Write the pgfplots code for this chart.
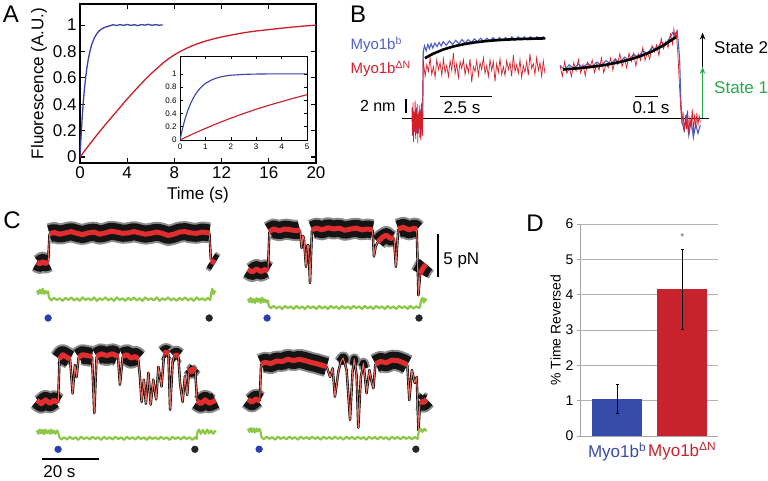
\documentclass[border=0pt]{standalone}
\usepackage{pgfplots}
\pgfplotsset{compat=1.18}
\usepackage{pgfplotstable}
\usepackage{fontspec}
\setmainfont{Liberation Sans}
\usetikzlibrary{arrows.meta}
\newcommand\fs[1]{\fontsize{#1}{#1}\selectfont}
\definecolor{ablue}{RGB}{55,65,170}
\definecolor{ared}{RGB}{200,30,40}
\definecolor{bblue}{RGB}{80,95,200}
\definecolor{bred}{RGB}{215,30,40}
\definecolor{cred}{RGB}{225,45,45}
\definecolor{cpink}{RGB}{232,110,100}
\definecolor{cgreen}{RGB}{140,200,70}
\definecolor{sgreen}{RGB}{40,170,75}
\definecolor{dblue}{RGB}{55,75,170}
\definecolor{dred}{RGB}{200,35,45}
\definecolor{dotblue}{RGB}{40,60,180}
\pgfplotsset{
 cax/.style={anchor=south west, scale only axis, width=178.125pt, height=111.8pt, xmin=0, xmax=62.5, ymin=-7, ymax=6, hide axis, clip=false, no markers},
 bax/.style={anchor=south west, scale only axis, height=126pt, ymin=-4, ymax=14, hide axis, clip=false, no markers},
}
\newcommand{\bandK}[3]{\addplot[black!45, line width=#2, line cap=butt, line join=round] table {#1};\addplot[black!92, line width=#3, line cap=butt, line join=round] table {#1};}
\newcommand{\bandR}[1]{\addplot[cred, line width=5pt, line join=round] table {#1};}
\newcommand{\connK}[1]{\addplot[black, line width=2.4pt, line join=round] table {#1};}
\newcommand{\connR}[1]{\addplot[cpink, line width=1.1pt, line join=round] table {#1};}
% ---------- panel C tables (time s, force pN) ----------
% top left
\pgfplotstableread[row sep=\\]{x y\\0 0.1\\1 -0.1\\2 0.15\\3 -0.05\\3.9 0.1\\}\TLa
\pgfplotstableread[row sep=\\]{x y\\3.9 0.1\\4.4 3.4\\}\TLca
\pgfplotstableread[row sep=\\]{x y\\4.4 3.4\\6 3.55\\8 3.35\\10 3.5\\12 3.65\\14 3.45\\16 3.3\\18 3.5\\20 3.6\\22 3.35\\24 3.5\\26 3.7\\28 3.6\\30 3.45\\32 3.5\\34 3.65\\36 3.5\\38 3.35\\40 3.45\\42 3.6\\44 3.45\\46 3.2\\48 3.35\\50 3.6\\52 3.65\\54 3.5\\56 3.45\\58 3.6\\60.5 3.5\\}\TLb
\pgfplotstableread[row sep=\\]{x y\\60.5 3.5\\61.0 0.4\\}\TLcb
\pgfplotstableread[row sep=\\]{x y\\61.0 0.3\\62.5 0.0\\}\TLc
% top right
\pgfplotstableread[row sep=\\]{x y\\0 0.3\\1.5 0.0\\3 0.35\\4.5 0.05\\6 0.3\\7.0 0.1\\}\TRa
\pgfplotstableread[row sep=\\]{x y\\7.0 0.1\\7.5 4.7\\}\TRca
\pgfplotstableread[row sep=\\]{x y\\7.5 4.7\\9 5.0\\11 4.8\\13 5.0\\15 4.9\\17 4.8\\18.2 4.9\\}\TRb
\pgfplotstableread[row sep=\\]{x y\\18.2 4.9\\18.8 2.8\\19.2 4.2\\19.6 4.0\\20.35 0.6\\20.8 3.1\\21.2 3.1\\21.75 -1.3\\22.45 4.9\\}\TRcb
\pgfplotstableread[row sep=\\]{x y\\22.45 4.9\\24 5.1\\26 4.9\\28 5.15\\30 5.0\\32 5.1\\34 4.85\\36 5.0\\38 5.1\\40 4.9\\42 5.0\\43.7 4.9\\}\TRc
\pgfplotstableread[row sep=\\]{x y\\43.7 4.9\\44.2 1.8\\44.8 3.0\\45.6 3.5\\}\TRcc
\pgfplotstableread[row sep=\\]{x y\\45.6 3.5\\47 4.0\\48.5 4.3\\50 3.9\\51.2 4.0\\}\TRd
\pgfplotstableread[row sep=\\]{x y\\51.2 4.0\\51.9 0.6\\52.7 5.0\\}\TRcd
\pgfplotstableread[row sep=\\]{x y\\52.7 5.0\\54.5 5.2\\56.5 4.9\\58.5 5.1\\59.2 4.9\\}\TRe
\pgfplotstableread[row sep=\\]{x y\\59.2 4.9\\59.8 -2.7\\60.4 -0.2\\}\TRce
\pgfplotstableread[row sep=\\]{x y\\60.4 -0.2\\61.5 0.5\\62.5 0.9\\}\TRf
% bottom left
\pgfplotstableread[row sep=\\]{x y\\0 0.2\\1.5 -0.2\\3 0.25\\4.5 -0.15\\6 0.2\\7.4 -0.1\\}\BLa
\pgfplotstableread[row sep=\\]{x y\\7.4 -0.1\\7.9 5.0\\}\BLca
\pgfplotstableread[row sep=\\]{x y\\7.9 5.0\\9 5.5\\10.5 5.2\\11.6 5.0\\}\BLb
\pgfplotstableread[row sep=\\]{x y\\11.6 5.0\\12.5 1.0\\13.3 4.3\\13.9 2.9\\14.6 5.2\\}\BLcb
\pgfplotstableread[row sep=\\]{x y\\14.6 5.2\\16 5.5\\17.5 5.4\\19.3 5.3\\}\BLc
\pgfplotstableread[row sep=\\]{x y\\19.3 5.3\\20.1 -1.3\\20.9 5.3\\}\BLcc
\pgfplotstableread[row sep=\\]{x y\\20.9 5.3\\22.5 5.6\\24.5 5.4\\26.5 5.6\\28.4 5.3\\}\BLd
\pgfplotstableread[row sep=\\]{x y\\28.4 5.3\\29.1 2.0\\30.1 5.3\\}\BLcd
\pgfplotstableread[row sep=\\]{x y\\30.1 5.3\\31.5 5.5\\33 5.1\\34.5 5.3\\35.5 5.0\\}\BLe
\pgfplotstableread[row sep=\\]{x y\\35.5 5.0\\36.1 3.0\\36.7 0.0\\37.5 2.6\\38.2 -0.2\\39.1 3.4\\39.9 -0.3\\40.8 2.6\\41.8 0.3\\42.6 4.1\\43.7 1.8\\44.6 5.6\\}\BLce
\pgfplotstableread[row sep=\\]{x y\\44.6 5.6\\45.3 5.8\\46.1 5.6\\}\BLf
\pgfplotstableread[row sep=\\]{x y\\46.1 5.6\\46.7 -0.9\\47.6 4.6\\48.1 5.3\\}\BLcf
\pgfplotstableread[row sep=\\]{x y\\48.1 5.3\\48.8 5.5\\49.6 5.3\\}\BLg
\pgfplotstableread[row sep=\\]{x y\\49.6 5.3\\50.2 2.2\\51.1 0.0\\51.9 3.0\\52.7 0.8\\53.4 3.9\\}\BLcg
\pgfplotstableread[row sep=\\]{x y\\53.4 3.9\\54.3 3.5\\55.4 4.0\\}\BLh
\pgfplotstableread[row sep=\\]{x y\\55.4 4.0\\56.2 0.1\\}\BLch
\pgfplotstableread[row sep=\\]{x y\\56.2 0.1\\57.5 -0.2\\59 0.25\\60.5 -0.15\\62.7 0.2\\}\BLi
% bottom right
\pgfplotstableread[row sep=\\]{x y\\0 0.2\\1.4 -0.15\\2.8 0.25\\4.1 0.0\\}\BRa
\pgfplotstableread[row sep=\\]{x y\\4.1 0.0\\4.6 4.3\\}\BRca
\pgfplotstableread[row sep=\\]{x y\\4.6 4.3\\6 4.5\\8 4.35\\10 4.65\\12 4.6\\14 4.85\\16 4.7\\18 4.85\\20 4.7\\22 4.5\\24 4.35\\26 4.15\\27.6 4.0\\}\BRb
\pgfplotstableread[row sep=\\]{x y\\27.6 4.0\\28.8 2.8\\29.7 3.8\\30.5 0.5\\31.7 3.4\\32.6 4.6\\33.4 5.0\\34.6 3.6\\35.8 -2.2\\36.7 3.5\\37.3 4.9\\38.1 3.0\\38.7 -3.1\\39.6 2.8\\40.5 4.4\\41.3 2.0\\41.6 0.9\\42.6 3.6\\43.4 2.2\\44.0 1.5\\44.7 4.3\\}\BRcb
\pgfplotstableread[row sep=\\]{x y\\32.4 4.5\\33.4 5.0\\34.3 4.4\\}\BRpa
\pgfplotstableread[row sep=\\]{x y\\36.9 4.2\\37.3 4.9\\37.8 4.2\\}\BRpb
\pgfplotstableread[row sep=\\]{x y\\40.0 4.0\\40.5 4.4\\41.0 3.8\\}\BRpc
\pgfplotstableread[row sep=\\]{x y\\44.7 4.3\\46.5 4.6\\48.5 4.45\\50.5 4.75\\52.5 4.7\\54.5 4.45\\55.9 4.2\\}\BRc
\pgfplotstableread[row sep=\\]{x y\\55.9 4.2\\56.6 0.1\\57.5 3.6\\58.5 2.1\\59.2 2.8\\59.8 -3.4\\60.4 0.0\\}\BRcc
\pgfplotstableread[row sep=\\]{x y\\60.4 0.0\\61.5 -0.2\\62.7 0.2\\}\BRd
\begin{document}
\begin{tikzpicture}
\path[use as bounding box] (0,0) rectangle (768pt,480pt);
% ================= PANEL A =================
\begin{axis}[at={(80pt,317pt)}, anchor=south west, scale only axis, width=236pt, height=159pt,
 xmin=0, xmax=20, ymin=-0.045, ymax=1.16, xtick={0,4,8,12,16,20}, ytick={0,0.2,0.4,0.6,0.8,1},
 major tick length=5pt, tick style={black, line width=1.2pt}, axis line style={line width=1.8pt},
 ticklabel style={font=\fs{17}}, label style={font=\fs{17}}, /pgf/number format/assume math mode=true,
 xlabel={Time (s)}, ylabel={Fluorescence (A.U.)}, xlabel style={yshift=-2pt}, ylabel style={yshift=-1pt}, no markers]
\addplot[ablue, line width=1.3pt] coordinates {(0,0) (0.1,0.175) (0.2,0.32) (0.3,0.44) (0.4,0.537) (0.5,0.618) (0.6,0.685) (0.7,0.74) (0.8,0.785) (0.9,0.823) (1.0,0.854) (1.2,0.9) (1.4,0.932) (1.6,0.954) (1.8,0.969) (2.0,0.979) (2.2,0.987) (2.5,0.994) (2.8,1.003) (3.1,0.997) (3.4,1.004) (3.7,0.998) (4.0,1.005) (4.3,0.998) (4.6,1.003) (4.9,0.996) (5.2,1.004) (5.5,1.0) (5.8,1.006) (6.1,0.998) (6.4,1.004) (6.7,0.999) (7.0,1.002)};
\addplot[ared, line width=1.3pt] coordinates {(0,0) (0.5,0.06) (1,0.118) (1.5,0.175) (2,0.23) (2.5,0.283) (3,0.335) (3.5,0.388) (4,0.44) (4.5,0.49) (5,0.538) (5.5,0.585) (6,0.63) (6.5,0.67) (7,0.71) (7.5,0.745) (8,0.775) (8.5,0.80) (9,0.823) (9.5,0.843) (10,0.86) (10.5,0.875) (11,0.888) (11.5,0.90) (12,0.91) (13,0.928) (14,0.944) (15,0.956) (16,0.966) (17,0.976) (18,0.985) (19,0.993) (20,1.0)};
\end{axis}
\begin{axis}[at={(180pt,340pt)}, anchor=south west, scale only axis, width=127pt, height=84pt,
 xmin=0, xmax=5, ymin=0, ymax=1.27, xtick={0,1,2,3,4,5}, ytick={0,0.2,0.4,0.6,0.8,1},
 major tick length=3pt, tick style={black, line width=0.6pt}, axis line style={line width=0.8pt},
 ticklabel style={font=\fs{8}}, /pgf/number format/assume math mode=true,
 axis background/.style={fill=white}, no markers]
\addplot[ablue, line width=1.1pt] coordinates {(0,0) (0.05,0.09) (0.1,0.175) (0.2,0.32) (0.3,0.44) (0.4,0.537) (0.5,0.618) (0.6,0.685) (0.7,0.74) (0.8,0.785) (0.9,0.823) (1.0,0.854) (1.2,0.9) (1.4,0.932) (1.6,0.954) (1.8,0.969) (2.0,0.979) (2.5,0.992) (3,0.997) (3.5,0.999) (4,1.0) (4.5,1.0) (5,1.0)};
\addplot[ared, line width=1.1pt] coordinates {(0,0) (0.5,0.09) (1,0.175) (1.5,0.255) (2,0.33) (2.5,0.40) (3,0.465) (3.5,0.525) (4,0.58) (4.5,0.635) (5,0.685)};
\end{axis}
% ================= PANEL B =================
\begin{axis}[bax, at={(412pt,334pt)}, width=134pt, xmin=0, xmax=6.44]
\addplot[black, line width=0.9pt] coordinates {(-0.48,0) (14.28,0)};
\addplot[bblue, line width=1.1pt] coordinates {(0,-0.5) (0.03,1.2) (0.06,-1.8) (0.09,0.6) (0.12,-2.0) (0.15,1.0) (0.18,-1.2) (0.21,1.5) (0.24,-1.6) (0.27,0.4) (0.3,-2.2) (0.33,0.9) (0.36,-1.0) (0.39,1.3) (0.42,-1.9) (0.45,0.2) (0.48,-1.4) (0.52,0.5) (0.54,9.5) (0.6,10.3) (0.68,9.6) (0.76,10.5) (0.84,9.9) (0.92,10.6) (1.0,10.0) (1.1,10.7) (1.2,10.2) (1.3,10.8) (1.4,10.3) (1.5,10.9) (1.65,10.4) (1.8,11.0) (1.95,10.5) (2.1,11.1) (2.25,10.6) (2.4,11.2) (2.55,10.7) (2.7,11.2) (2.85,10.8) (3.0,11.3) (3.15,10.9) (3.3,11.4) (3.45,10.9) (3.6,11.4) (3.75,11.0) (3.9,11.5) (4.05,11.0) (4.2,11.5) (4.35,11.1) (4.5,11.5) (4.65,11.1) (4.8,11.6) (4.95,11.1) (5.1,11.6) (5.25,11.2) (5.4,11.6) (5.55,11.2) (5.7,11.6) (5.85,11.2) (6.0,11.6) (6.15,11.2) (6.3,11.6) (6.42,11.3)};
\addplot[bred, line width=0.7pt] coordinates {(0,1.5) (0.025,-2.5) (0.05,2.2) (0.075,-3.4) (0.1,0.8) (0.125,-1.8) (0.15,2.5) (0.175,-3.0) (0.2,1.2) (0.225,-2.2) (0.25,2.0) (0.275,-3.6) (0.3,0.5) (0.325,-1.5) (0.35,1.8) (0.375,-2.8) (0.4,1.0) (0.425,-3.2) (0.45,2.2) (0.475,-1.0) (0.5,-2.5) (0.53,8.5) (0.55,8.04) (0.63,5.94) (0.71,7.62) (0.79,6.64) (0.87,8.6) (0.95,6.22) (1.03,7.34) (1.11,5.8) (1.19,8.32) (1.27,6.92) (1.35,7.9) (1.43,6.08) (1.51,8.46) (1.59,6.5) (1.67,7.48) (1.75,5.94) (1.83,8.18) (1.91,6.78) (1.99,9.3) (2.07,6.36) (2.15,7.76) (2.23,5.8) (2.31,8.04) (2.39,7.06) (2.47,8.32) (2.55,6.22) (2.63,7.62) (2.71,6.5) (2.79,8.46) (2.87,5.1) (2.95,7.34) (3.03,6.64) (3.11,8.18) (3.19,6.08) (3.27,7.9) (3.35,6.92) (3.43,8.6) (3.51,6.36) (3.59,7.48) (3.67,5.94) (3.75,8.32) (3.83,6.78) (3.91,8.04) (3.99,5.2) (4.07,7.76) (4.15,6.5) (4.23,8.46) (4.31,6.22) (4.39,7.34) (4.47,6.08) (4.55,8.18) (4.63,6.92) (4.71,7.9) (4.79,5.94) (4.87,9.0) (4.95,6.64) (5.03,7.62) (5.11,6.36) (5.19,8.32) (5.27,5.8) (5.35,7.48) (5.43,6.5) (5.51,8.04) (5.59,6.08) (5.67,9.2) (5.75,7.06) (5.83,7.76) (5.91,6.22) (5.99,8.6) (6.07,6.78) (6.15,7.9) (6.23,5.94) (6.31,8.18) (6.39,6.36)};
\addplot[black, line width=2.6pt] coordinates {(0.62,8.55) (1.0,9.16) (1.5,9.78) (2,10.23) (2.5,10.55) (3,10.79) (3.5,10.97) (4,11.1) (4.5,11.19) (5,11.26) (5.5,11.31) (6,11.35) (6.4,11.37)};
\addplot[black, line width=1pt] coordinates {(1.35,3) (3.85,3)};
\addplot[black, line width=1.3pt] coordinates {(-0.29,0.7) (-0.29,2.7)};
\node[font=\fs{17}] at (axis cs:2.4,1.45) {2.5 s};
\node[font=\fs{16}, anchor=east] at (axis cs:-0.62,1.7) {2 nm};
\end{axis}
\begin{axis}[bax, at={(560pt,334pt)}, width=140.3pt, xmin=0, xmax=0.61]
\addplot[bblue, line width=1.1pt] coordinates {(0,7.5) (0.02,6.9) (0.04,7.6) (0.06,7.1) (0.08,7.7) (0.1,7.2) (0.12,7.8) (0.14,7.3) (0.16,8.0) (0.18,7.5) (0.2,8.2) (0.22,7.7) (0.24,8.4) (0.26,7.9) (0.28,8.7) (0.3,8.3) (0.32,9.1) (0.34,8.7) (0.36,9.6) (0.38,9.2) (0.4,10.1) (0.42,9.8) (0.44,10.8) (0.46,10.6) (0.48,11.6) (0.49,12.2) (0.5,11.9) (0.51,12.4) (0.52,8.5) (0.525,3.0) (0.53,-0.5) (0.54,-1.8) (0.55,0.2) (0.56,-2.5) (0.57,-0.4) (0.58,-2.8) (0.59,-0.9) (0.6,-2.2) (0.61,-1.0)};
\addplot[bred, line width=0.7pt] coordinates {(0,7.5) (0.01,5.96) (0.02,8.03) (0.03,6.37) (0.04,7.24) (0.05,5.94) (0.06,7.89) (0.07,6.72) (0.08,8.31) (0.09,6.42) (0.1,7.65) (0.11,6.01) (0.12,7.96) (0.13,7.16) (0.14,8.28) (0.15,6.52) (0.16,7.76) (0.17,6.85) (0.18,8.58) (0.19,6.47) (0.2,7.72) (0.21,7.18) (0.22,8.56) (0.23,6.82) (0.24,8.45) (0.25,7.68) (0.26,9.2) (0.27,7.36) (0.28,8.4) (0.29,7.16) (0.3,9.28) (0.31,8.06) (0.32,9.24) (0.33,7.42) (0.34,9.21) (0.35,8.24) (0.36,10.05) (0.37,8.26) (0.38,9.35) (0.39,8.41) (0.4,10.35) (0.41,9.43) (0.42,10.44) (0.43,8.93) (0.44,11.39) (0.45,9.89) (0.46,10.93) (0.47,10.06) (0.48,11.95) (0.49,10.52) (0.495,12.7) (0.5,11.4) (0.505,12.3) (0.512,9.5) (0.518,5.5) (0.524,1.8) (0.53,-0.8) (0.535,0.9) (0.54,-2.0) (0.545,0.4) (0.55,-1.6) (0.555,1.1) (0.56,-2.3) (0.565,0.0) (0.57,-1.2) (0.575,1.3) (0.58,-2.1) (0.585,0.5) (0.59,-1.5) (0.595,0.7) (0.6,-1.0) (0.605,0.3) (0.61,-0.6)};
\addplot[black, line width=2.6pt] coordinates {(0.013,6.93) (0.05,7.02) (0.1,7.17) (0.15,7.36) (0.2,7.6) (0.25,7.92) (0.3,8.32) (0.35,8.84) (0.4,9.51) (0.45,10.37) (0.504,11.56)};
\addplot[black, line width=1pt] coordinates {(0.326,3) (0.426,3)};
\node[font=\fs{17}] at (axis cs:0.396,1.45) {0.1 s};
\draw[sgreen, line width=1.2pt, -{Stealth[length=7pt,width=5.5pt]}] (axis cs:0.62,0) -- (axis cs:0.62,7.3);
\draw[black, line width=1.2pt, -{Stealth[length=7pt,width=5.5pt]}] (axis cs:0.62,7.3) -- (axis cs:0.62,12.2);
\node[font=\fs{17}, anchor=west] at (axis cs:0.655,10.0) {State 2};
\node[font=\fs{17}, anchor=west, text=sgreen] at (axis cs:0.655,4.4) {State 1};
\end{axis}
\node[font=\fs{15}, anchor=west, text=bblue] at (347pt,435pt) {Myo1b\textsuperscript{b}};
\node[font=\fs{15}, anchor=west, text=bred] at (347pt,411pt) {Myo1b\textsuperscript{ΔN}};
% ================= PANEL C =================
% top left
\begin{axis}[cax, at={(37pt,156.8pt)}]
\bandK{\TLa}{20pt}{16pt}\bandK{\TLb}{21pt}{17pt}\bandK{\TLc}{20pt}{16pt}
\connK{\TLca}\connK{\TLcb}\connR{\TLca}\connR{\TLcb}
\bandR{\TLa}\bandR{\TLb}\bandR{\TLc}
\addplot[cgreen, line width=2.2pt, line join=round] coordinates {(0,-3.2) (0.5,-3.6) (1,-3.1) (1.5,-3.55) (2,-3.0) (2.5,-3.6) (3,-3.25) (3.5,-3.5) (3.9,-3.3) (4.2,-4.0) (5,-4.35) (6,-4.05) (7,-4.3) (8,-4.1) (9,-4.4) (10,-4.05) (11,-4.3) (12,-4.0) (13,-4.35) (14,-4.1) (15,-4.4) (16,-4.0) (17,-4.3) (18,-4.1) (19,-4.35) (20,-4.0) (21,-4.4) (22,-4.1) (23,-4.3) (24,-4.0) (25,-4.35) (26,-4.1) (27,-4.4) (28,-4.0) (29,-4.3) (30,-4.1) (31,-4.4) (32,-4.05) (33,-4.3) (34,-4.0) (35,-4.35) (36,-4.1) (37,-4.4) (38,-4.0) (39,-4.3) (40,-4.1) (41,-4.35) (42,-4.0) (43,-4.4) (44,-4.1) (45,-4.3) (46,-4.0) (47,-4.35) (48,-4.1) (49,-4.4) (50,-4.05) (51,-4.3) (52,-4.0) (53,-4.35) (54,-4.1) (55,-4.4) (56,-4.0) (57,-4.3) (58,-4.1) (59,-4.35) (60,-4.05) (60.8,-4.3) (61.1,-3.5) (61.5,-3.0) (62,-3.6) (62.5,-3.2)};
\addplot[only marks, mark=*, mark size=3.4pt, dotblue] coordinates {(3.9,-6.4)};
\addplot[only marks, mark=*, mark size=3.4pt, black!85] coordinates {(60.4,-6.4)};
\end{axis}
% top right
\begin{axis}[cax, at={(248pt,147.8pt)}]
\bandK{\TRa}{20pt}{16pt}\bandK{\TRb}{21pt}{17pt}\bandK{\TRc}{21pt}{17pt}\bandK{\TRd}{18pt}{14pt}\bandK{\TRe}{21pt}{17pt}\bandK{\TRf}{20pt}{16pt}
\connK{\TRca}\connK{\TRcb}\connK{\TRcc}\connK{\TRcd}\connK{\TRce}
\connR{\TRca}\connR{\TRcb}\connR{\TRcc}\connR{\TRcd}\connR{\TRce}
\bandR{\TRa}\bandR{\TRb}\bandR{\TRc}\bandR{\TRd}\bandR{\TRe}\bandR{\TRf}
\addplot[cgreen, line width=2.2pt, line join=round] coordinates {(0,-3.1) (0.5,-3.5) (1,-3.0) (1.5,-3.55) (2,-3.15) (2.5,-3.6) (3,-3.05) (3.5,-3.45) (4,-3.1) (4.5,-3.6) (5,-3.0) (5.5,-3.5) (6,-3.2) (6.5,-3.55) (7,-3.3) (7.3,-3.95) (8,-4.2) (9,-3.95) (10,-4.25) (11,-4.0) (12,-4.3) (13,-3.95) (14,-4.2) (15,-4.0) (16,-4.3) (17,-3.95) (18,-4.25) (19,-4.0) (20,-4.3) (21,-3.95) (22,-4.2) (23,-4.0) (24,-4.3) (25,-3.95) (26,-4.25) (27,-4.0) (28,-4.3) (29,-3.95) (30,-4.2) (31,-4.0) (32,-4.3) (33,-3.95) (34,-4.25) (35,-4.0) (36,-4.3) (37,-3.95) (38,-4.2) (39,-4.0) (40,-4.3) (41,-3.95) (42,-4.25) (43,-4.0) (44,-4.3) (45,-3.95) (46,-4.2) (47,-4.0) (48,-4.3) (49,-3.95) (50,-4.25) (51,-4.0) (52,-4.3) (53,-3.95) (54,-4.2) (55,-4.0) (56,-4.3) (57,-3.95) (58,-4.25) (59,-4.0) (60,-4.2) (60.4,-4.0) (60.7,-3.3) (61.2,-3.0) (61.7,-3.55) (62.2,-3.1) (62.5,-3.4)};
\addplot[only marks, mark=*, mark size=3.4pt, dotblue] coordinates {(6.7,-5.35)};
\addplot[only marks, mark=*, mark size=3.4pt, black!85] coordinates {(60.0,-5.35)};
\addplot[black, line width=1.3pt] coordinates {(66.7,-0.58) (66.7,4.42)};
\node[font=\fs{17}, anchor=west] at (axis cs:67.3,1.4) {5 pN};
\end{axis}
% bottom left
\begin{axis}[cax, at={(37pt,17.8pt)}]
\bandK{\BLa}{20pt}{16pt}\bandK{\BLb}{21pt}{17pt}\bandK{\BLc}{21pt}{17pt}\bandK{\BLd}{21pt}{17pt}\bandK{\BLe}{21pt}{17pt}\bandK{\BLf}{18pt}{14pt}\bandK{\BLg}{18pt}{14pt}\bandK{\BLh}{14pt}{10pt}\bandK{\BLi}{20pt}{16pt}
\connK{\BLca}\connK{\BLcb}\connK{\BLcc}\connK{\BLcd}\connK{\BLce}\connK{\BLcf}\connK{\BLcg}\connK{\BLch}
\connR{\BLca}\connR{\BLcb}\connR{\BLcc}\connR{\BLcd}\connR{\BLce}\connR{\BLcf}\connR{\BLcg}\connR{\BLch}
\bandR{\BLa}\bandR{\BLb}\bandR{\BLc}\bandR{\BLd}\bandR{\BLe}\bandR{\BLf}\bandR{\BLg}\bandR{\BLh}\bandR{\BLi}
\addplot[cgreen, line width=2.2pt, line join=round] coordinates {(0,-3.3) (0.5,-3.7) (1,-3.2) (1.5,-3.65) (2,-3.25) (2.5,-3.75) (3,-3.2) (3.5,-3.6) (4,-3.3) (4.5,-3.7) (5,-3.2) (5.5,-3.65) (6,-3.35) (6.5,-3.7) (7,-3.3) (7.5,-3.6) (7.8,-4.1) (8.5,-4.35) (9.5,-4.1) (10.5,-4.35) (11.5,-4.05) (12.5,-4.3) (13.5,-4.1) (14.5,-4.4) (15.5,-4.05) (16.5,-4.3) (17.5,-4.1) (18.5,-4.35) (19.5,-4.05) (20.5,-4.3) (21.5,-4.1) (22.5,-4.4) (23.5,-4.05) (24.5,-4.3) (25.5,-4.1) (26.5,-4.35) (27.5,-4.05) (28.5,-4.3) (29.5,-4.1) (30.5,-4.4) (31.5,-4.05) (32.5,-4.3) (33.5,-4.1) (34.5,-4.35) (35.5,-4.05) (36.5,-4.3) (37.5,-4.1) (38.5,-4.4) (39.5,-4.05) (40.5,-4.3) (41.5,-4.1) (42.5,-4.35) (43.5,-4.05) (44.5,-4.3) (45.5,-4.1) (46.5,-4.4) (47.5,-4.05) (48.5,-4.3) (49.5,-4.1) (50.5,-4.35) (51.5,-4.05) (52.5,-4.3) (53.5,-4.1) (54.5,-4.4) (55.5,-4.1) (56.0,-4.3) (56.3,-3.5) (56.8,-3.2) (57.5,-3.7) (58.2,-3.25) (59,-3.7) (59.7,-3.2) (60.4,-3.65) (61.1,-3.3) (61.8,-3.7) (62.7,-3.3)};
\addplot[only marks, mark=*, mark size=3.4pt, dotblue] coordinates {(7.4,-5.5)};
\addplot[only marks, mark=*, mark size=3.4pt, black!85] coordinates {(55.4,-5.5)};
\addplot[black, line width=1.3pt] coordinates {(1.75,-6.63) (21.8,-6.63)};
\node[font=\fs{17}, anchor=west] at (axis cs:1.0,-8.1) {20 s};
\end{axis}
% bottom right
\begin{axis}[cax, at={(248pt,18.8pt)}]
\bandK{\BRa}{20pt}{16pt}\bandK{\BRb}{21pt}{17pt}\bandK{\BRpa}{13pt}{9pt}\bandK{\BRpb}{11pt}{7pt}\bandK{\BRpc}{11pt}{7pt}\bandK{\BRc}{21pt}{17pt}\bandK{\BRd}{20pt}{16pt}
\connK{\BRca}\connK{\BRcb}\connK{\BRcc}
\connR{\BRca}\connR{\BRcb}\connR{\BRcc}
\bandR{\BRa}\bandR{\BRb}\bandR{\BRc}\bandR{\BRd}
\addplot[cgreen, line width=2.2pt, line join=round] coordinates {(0,-3.2) (0.5,-3.6) (1,-3.15) (1.5,-3.6) (2,-3.2) (2.5,-3.65) (3,-3.2) (3.5,-3.55) (4,-3.25) (4.4,-3.5) (4.7,-4.2) (5.5,-4.45) (6.5,-4.15) (7.5,-4.4) (8.5,-4.2) (9.5,-4.5) (10.5,-4.15) (11.5,-4.4) (12.5,-4.2) (13.5,-4.45) (14.5,-4.15) (15.5,-4.4) (16.5,-4.2) (17.5,-4.5) (18.5,-4.15) (19.5,-4.4) (20.5,-4.2) (21.5,-4.45) (22.5,-4.15) (23.5,-4.4) (24.5,-4.2) (25.5,-4.5) (26.5,-4.15) (27.5,-4.4) (28.5,-4.2) (29.5,-4.45) (30.5,-4.15) (31.5,-4.4) (32.5,-4.2) (33.5,-4.5) (34.5,-4.15) (35.5,-4.4) (36.5,-4.2) (37.5,-4.45) (38.5,-4.15) (39.5,-4.4) (40.5,-4.2) (41.5,-4.5) (42.5,-4.15) (43.5,-4.4) (44.5,-4.2) (45.5,-4.45) (46.5,-4.15) (47.5,-4.4) (48.5,-4.2) (49.5,-4.5) (50.5,-4.15) (51.5,-4.4) (52.5,-4.2) (53.5,-4.45) (54.5,-4.15) (55.5,-4.4) (56.5,-4.2) (57.5,-4.45) (58.5,-4.2) (59.5,-4.4) (59.9,-3.6) (60.5,-3.2) (61.2,-3.6) (61.9,-3.25) (62.7,-3.5)};
\addplot[only marks, mark=*, mark size=3.4pt, dotblue] coordinates {(3.9,-5.6)};
\addplot[only marks, mark=*, mark size=3.4pt, black!85] coordinates {(58.9,-5.6)};
\end{axis}
% ================= PANEL D =================
\begin{axis}[at={(580pt,44pt)}, anchor=south west, scale only axis, width=138pt, height=212pt,
 xmin=0.43, xmax=2.55, ymin=0, ymax=6, axis x line*=bottom, axis y line*=left,
 axis line style={draw=black!35, line width=0.8pt}, ytick={0,1,2,3,4,5,6}, xtick={1,2},
 xticklabels={\textcolor{dblue}{Myo1b\textsuperscript{b}},\textcolor{dred}{Myo1b\textsuperscript{ΔN}}},
 ymajorgrids, grid style={black!30, line width=0.8pt}, tick align=outside,
 ytick style={black!35, line width=0.8pt}, major tick length=3pt, xtick style={draw=none},
 yticklabel style={font=\fs{14}}, xticklabel style={font=\fs{17}}, /pgf/number format/assume math mode=true,
 ylabel={\% Time Reversed}, ylabel style={font=\fs{14}, yshift=-2pt}, clip=false, no markers]
\addplot[ybar, bar width=50pt, bar shift=0pt, fill=dblue, draw=none,
 error bars/.cd, y dir=both, y explicit, error bar style={black, line width=1.1pt},
 error mark options={black, line width=1pt, mark size=1.6pt, rotate=90}] coordinates {(1,1.05) +- (0,0.41)};
\addplot[ybar, bar width=50pt, bar shift=0pt, fill=dred, draw=none,
 error bars/.cd, y dir=both, y explicit, error bar style={black, line width=1.1pt},
 error mark options={black, line width=1pt, mark size=1.6pt, rotate=90}] coordinates {(2,4.15) +- (0,1.14)};
\node[font=\fs{10}, text=black!60] at (axis cs:2,5.62) {*};
\end{axis}
% ================= panel letters =================
\node[font=\fs{24}] at (11pt,466pt) {A};
\node[font=\fs{24}] at (358pt,466pt) {B};
\node[font=\fs{24}] at (12pt,260pt) {C};
\node[font=\fs{24}] at (535pt,257pt) {D};
\end{tikzpicture}
\end{document}
